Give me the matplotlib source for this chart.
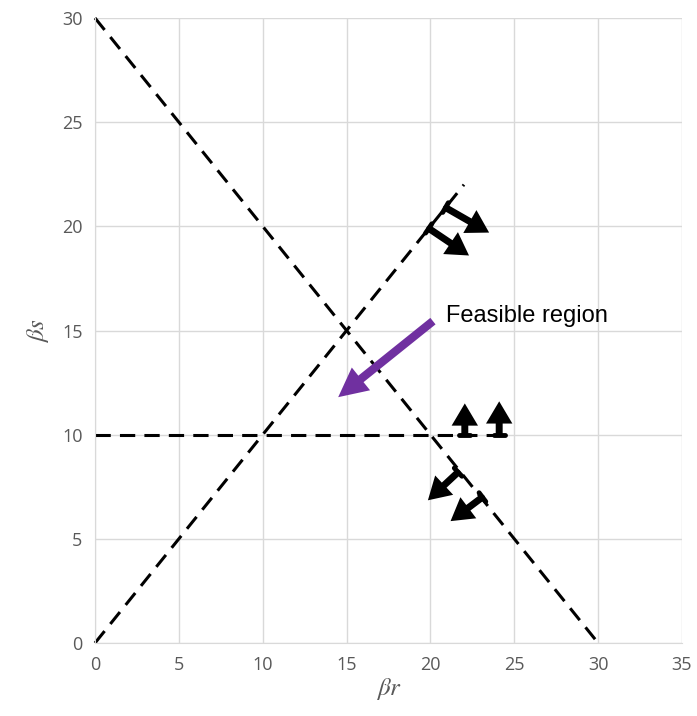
import matplotlib
matplotlib.use("Agg")
import matplotlib.pyplot as plt
import numpy as np

plt.rcParams["mathtext.fontset"] = "stix"

# Constraint lines
line_a_x = [0, 30]; line_a_y = [30, 0]      # βs = 30 - βr
line_b_x = [0, 22]; line_b_y = [0, 22]      # βs = βr
line_c_x = [0, 24.3]; line_c_y = [10, 10]   # βs = 10

# Direction arrows (tail, head)
black_arrows = [
    ((20.9, 20.9), (23.5, 19.7)),
    ((19.9, 19.9), (22.3, 18.6)),
    ((22.05, 10.0), (22.05, 11.5)),
    ((24.1, 10.0), (24.1, 11.6)),
    ((21.65, 8.2), (19.85, 6.85)),
    ((23.1, 7.0), (21.2, 5.85)),
]
purple_tail = (20.15, 15.45)
purple_head = (14.5, 11.8)
label_text = "Feasible region"
label_pos = (20.9, 15.7)

xticks = [0, 5, 10, 15, 20, 25, 30, 35]
yticks = [0, 5, 10, 15, 20, 25, 30]

fig = plt.figure(figsize=(6.97, 7.16), dpi=100)
ax = fig.add_axes([95/697, 73/716, 587/697, 625/716])
ax.set_xlim(0, 35)
ax.set_ylim(0, 30)
ax.set_xticks(xticks)
ax.set_yticks(yticks)
ax.grid(True, color="#d9d9d9", lw=1)
ax.set_axisbelow(True)
for s in ["top", "right"]:
    ax.spines[s].set_visible(False)
for s in ["left", "bottom"]:
    ax.spines[s].set_color("#d9d9d9")
ax.tick_params(length=0, labelsize=13, colors="#595959", pad=9)
for lab in ax.get_xticklabels() + ax.get_yticklabels():
    lab.set_family("Open Sans")

for xs, ys in [(line_a_x, line_a_y), (line_b_x, line_b_y), (line_c_x, line_c_y)]:
    ax.plot(xs, ys, color="black", lw=2.2, dashes=(5, 3), clip_on=False)

for (t, h) in black_arrows:
    ax.annotate("", xy=h, xytext=t,
                arrowprops=dict(arrowstyle="simple,head_length=1.6,head_width=1.9,tail_width=0.5",
                                mutation_scale=10,
                                facecolor="black", edgecolor="none", lw=0,
                                shrinkA=0, shrinkB=0))
    ax.annotate("", xy=h, xytext=t,
                arrowprops=dict(arrowstyle="|-|,widthA=0.4,widthB=0.0",
                                color="black", lw=3.5, shrinkA=0, shrinkB=10,
                                capstyle="round"))

ax.annotate("", xy=purple_head, xytext=purple_tail,
            arrowprops=dict(arrowstyle="simple,head_length=2.1,head_width=2.1,tail_width=0.6",
                            mutation_scale=10,
                            facecolor="#7030A0", edgecolor="none", lw=0,
                            shrinkA=0, shrinkB=0))
ax.text(label_pos[0], label_pos[1], label_text, fontsize=17,
        family="Liberation Sans", va="center", ha="left", color="black")

ax.set_xlabel(r"$\beta r$", fontsize=18, color="#595959", labelpad=2)
ax.set_ylabel(r"$\beta s$", fontsize=18, color="#595959", labelpad=8)

fig.savefig("out.png", dpi=100)
